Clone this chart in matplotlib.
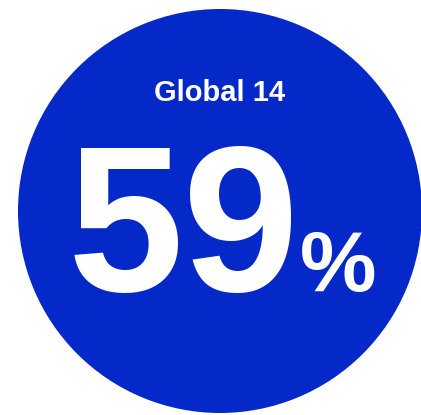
import matplotlib
matplotlib.use("Agg")
import matplotlib.pyplot as plt
from matplotlib.patches import Circle

# values shown in the badge
region_label = "Global 14"
share_value = 59
unit = "%"

blue = "#0529c8"
font = "Liberation Sans"

fig = plt.figure(figsize=(4.21, 4.15), dpi=100)
ax = fig.add_axes([0, 0, 1, 1])
ax.set_xlim(0, 421)
ax.set_ylim(415, 0)
ax.set_aspect("equal")
ax.axis("off")

ax.add_patch(Circle((220, 211), 202, facecolor=blue, edgecolor="none"))

ax.text(220, 101, region_label, ha="center", va="baseline", color="white",
        fontsize=21, fontweight="bold", family=font)
ax.text(299, 291, f"{share_value}", ha="right", va="baseline", color="white",
        fontsize=150, fontweight="bold", family=font)
ax.text(300, 291, unit, ha="left", va="baseline", color="white",
        fontsize=62, fontweight="bold", family=font)

fig.savefig("out.png", dpi=100)
